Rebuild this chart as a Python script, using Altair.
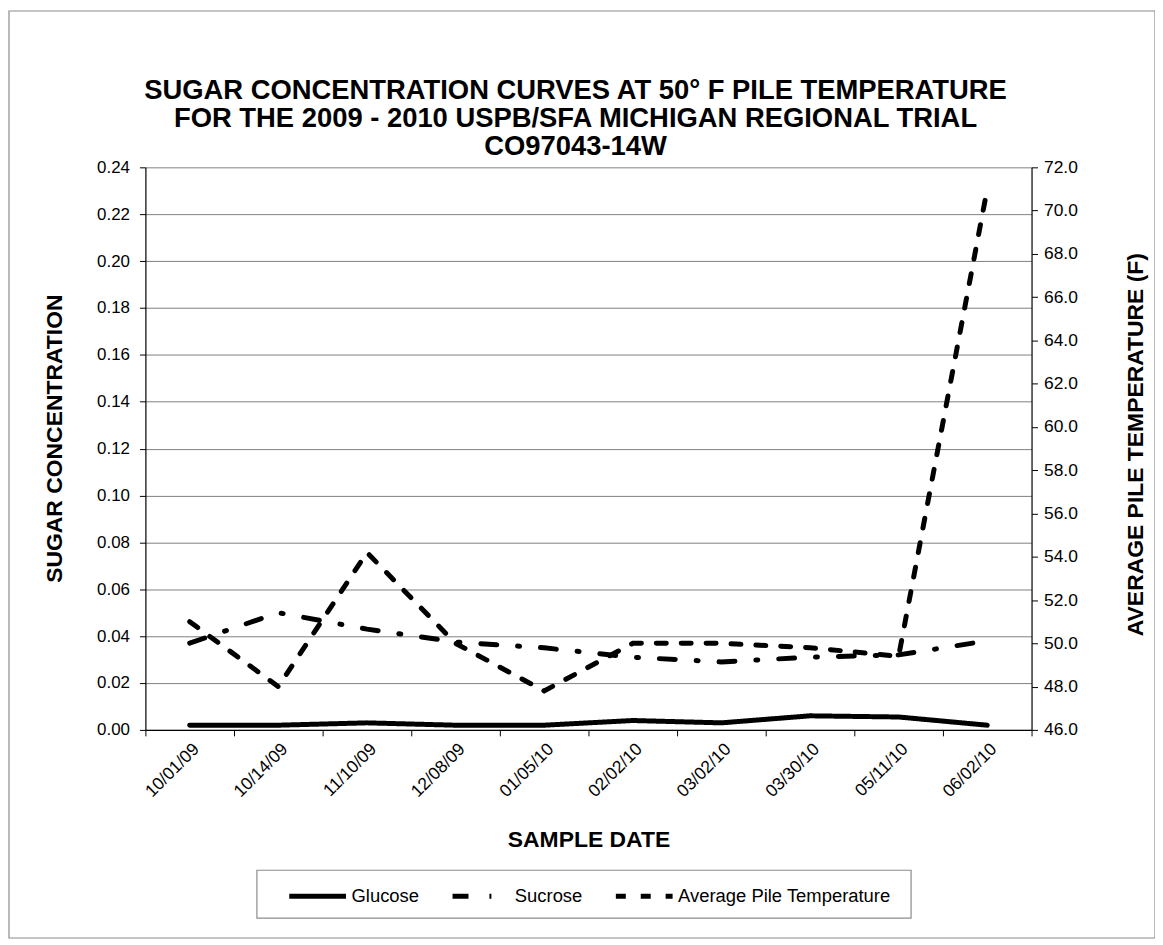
import altair as alt
import pandas as pd

dates = ["10/01/09", "10/14/09", "11/10/09", "12/08/09", "01/05/10",
         "02/02/10", "03/02/10", "03/30/10", "05/11/10", "06/02/10"]
glucose = [0.002, 0.002, 0.003, 0.002, 0.002, 0.004, 0.003, 0.006, 0.0055, 0.002]
sucrose = [0.037, 0.050, 0.043, 0.0375, 0.035, 0.031, 0.029, 0.031, 0.032, 0.038]
temperature = [51.0, 48.0, 54.2, 50.0, 47.8, 50.0, 50.0, 49.8, 49.4, 71.0]
series_names = ["Glucose", "Sucrose", "Average Pile Temperature"]
left_ticks = [0.00, 0.02, 0.04, 0.06, 0.08, 0.10, 0.12, 0.14, 0.16, 0.18, 0.20, 0.22, 0.24]
right_ticks = [46.0, 48.0, 50.0, 52.0, 54.0, 56.0, 58.0, 60.0, 62.0, 64.0, 66.0, 68.0, 70.0, 72.0]
title_lines = ["SUGAR CONCENTRATION CURVES AT 50° F PILE TEMPERATURE",
               "FOR THE 2009 - 2010 USPB/SFA MICHIGAN REGIONAL TRIAL",
               "CO97043-14W"]

rows = []
for i, d in enumerate(dates):
    rows.append({"date": d, "idx": i, "series": series_names[0], "value": glucose[i]})
    rows.append({"date": d, "idx": i, "series": series_names[1], "value": sucrose[i]})
    rows.append({"date": d, "idx": i, "series": series_names[2], "value": temperature[i]})
df = pd.DataFrame(rows)

FONT = "Liberation Sans"
W, H = 890, 565

dash_scale = alt.Scale(domain=series_names, range=[[1, 0], [16, 21, 2, 21], [10, 15]])

x_enc = alt.X(
    "date:O", sort=dates, bandPosition=0.5,
    scale=alt.Scale(type="band", paddingInner=0, paddingOuter=0),
    axis=alt.Axis(title="SAMPLE DATE", labelAngle=-45, tickBand="extent", grid=False,
                  titleY=110, titleBaseline="middle", labelPadding=4, labelFontSize=17.5),
)

legend = alt.Legend(
    title=None, orient="none", legendX=142, legendY=701, direction="horizontal",
    symbolType="stroke", symbolStrokeWidth=5, symbolSize=3249, symbolStrokeColor="black",
    labelFont=FONT, labelFontSize=18.5, labelColor="black", labelOffset=3, labelLimit=400,
    columnPadding=23, padding=0, gridAlign="none",
)

left = alt.Chart(df).transform_filter(
    alt.FieldOneOfPredicate(field="series", oneOf=series_names[:2])
).mark_line(strokeWidth=5, strokeCap="round", color="black").encode(
    x=x_enc,
    y=alt.Y("value:Q", scale=alt.Scale(domain=[0, 0.24], nice=False, zero=True),
            axis=alt.Axis(orient="left", values=left_ticks, format=".2f",
                          title="SUGAR CONCENTRATION", titleX=-91, titleY=272,
                          titleBaseline="middle", grid=True, labelPadding=10)),
    strokeDash=alt.StrokeDash("series:N", scale=dash_scale, legend=legend),
    order=alt.Order("idx:Q"),
)

right = alt.Chart(df).transform_filter(
    alt.FieldEqualPredicate(field="series", equal=series_names[2])
).mark_line(strokeWidth=5, strokeCap="round", color="black").encode(
    x=x_enc,
    y=alt.Y("value:Q", scale=alt.Scale(domain=[46, 72], nice=False, zero=False),
            axis=alt.Axis(orient="right", values=right_ticks, format=".1f",
                          title="AVERAGE PILE TEMPERATURE (F)", titleAngle=270,
                          titleX=104, titleY=278, titleBaseline="middle",
                          grid=False, labelPadding=6, labelFontSize=17.5)),
    strokeDash=alt.StrokeDash("series:N", scale=dash_scale, legend=legend),
    order=alt.Order("idx:Q"),
)

one = pd.DataFrame({"k": [0]})
frame = alt.Chart(one).mark_rect(fill="transparent", stroke="#8c8c8c", strokeWidth=1.2).encode(
    x=alt.value(-137), x2=alt.value(1014), y=alt.value(-157), y2=alt.value(774)
)
legend_box = alt.Chart(one).mark_rect(fill="transparent", stroke="#8c8c8c", strokeWidth=1.2).encode(
    x=alt.value(112), x2=alt.value(769), y=alt.value(706), y2=alt.value(754)
)

chart = alt.layer(frame, legend_box, left, right).resolve_scale(
    y="independent"
).properties(
    width=W, height=H,
    autosize=alt.AutoSizeParams(type="none"),
    padding={"left": 138, "top": 158, "right": 124, "bottom": 210},
    title=alt.TitleParams(text=title_lines, font=FONT, fontSize=27.5, fontWeight="bold",
                          color="black", anchor="middle", lineHeight=28.5, dx=-13, offset=-151),
).configure_view(
    stroke="transparent"
).configure_axis(
    labelFont=FONT, titleFont=FONT, labelColor="black", titleColor="black",
    labelFontSize=17, titleFontSize=23, titleFontWeight="bold",
    domainColor="black", domainWidth=1.2, tickColor="black", tickSize=6,
    gridColor="#808080", gridWidth=1,
)

chart.save("out.html", embed_options={"renderer": "svg", "actions": False})
